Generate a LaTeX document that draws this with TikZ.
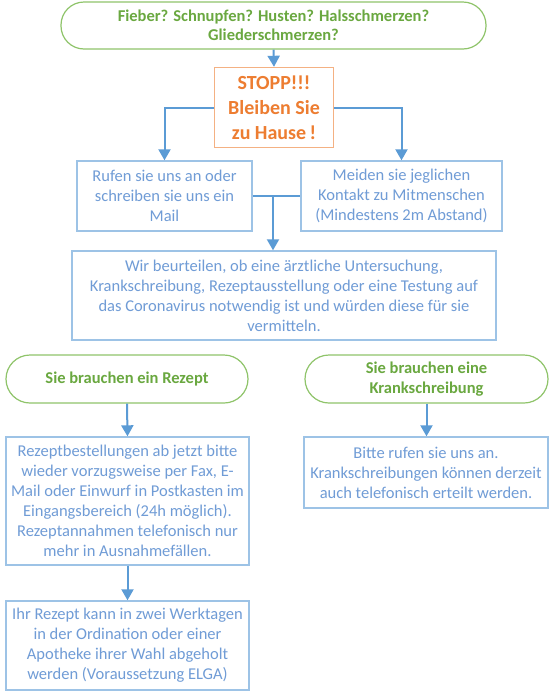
\documentclass[tikz,border=0pt]{standalone}
\usepackage{fontspec}
\setmainfont{Carlito}
\usetikzlibrary{arrows.meta}
\definecolor{bordblue}{RGB}{157,195,230}
\definecolor{txtblue}{RGB}{112,156,214}
\definecolor{arrblue}{RGB}{91,155,213}
\definecolor{grtxt}{RGB}{106,168,64}
\definecolor{grbord}{RGB}{143,196,106}
\definecolor{ortxt}{RGB}{237,125,49}
\definecolor{orbord}{RGB}{244,177,131}
\tikzset{
  infobox/.style={draw=bordblue, line width=1.4pt, rectangle, inner sep=0pt, align=center,
    text=txtblue, font=\fontsize{16.5}{20}\selectfont},
  termbox/.style={draw=grbord, line width=1.2pt, rectangle, inner sep=0pt, align=center,
    text=grtxt, font=\fontsize{16.5}{19.5}\selectfont\bfseries},
  stopbox/.style={draw=orbord, line width=1.4pt, rectangle, inner sep=0pt, align=center,
    text=ortxt, font=\fontsize{20}{25}\selectfont\bfseries},
  arr/.style={draw=arrblue, line width=2pt, -{Triangle[width=12pt,length=11pt]}},
  plainline/.style={draw=arrblue, line width=2pt}
}
\begin{document}
\begin{tikzpicture}[x=1pt,y=-1pt]
\useasboundingbox[fill=white] (0,0) rectangle (557,694);

\node[termbox, minimum width=425pt, minimum height=47pt, rounded corners=23pt] (top) at (273.5,25.5)
  {Fieber? Schnupfen? Husten? Halsschmerzen?\\Gliederschmerzen?};
\node[stopbox, minimum width=119pt, minimum height=80pt] (stop) at (274,107.5)
  {STOPP!!!\\Bleiben Sie\\zu Hause\,!};
\node[infobox, minimum width=175pt, minimum height=70pt] (left1) at (164.5,196)
  {Rufen sie uns an oder\\schreiben sie uns ein\\Mail};
\node[infobox, minimum width=201pt, minimum height=70pt] (right1) at (401.5,196)
  {Meiden sie jeglichen\\Kontakt zu Mitmenschen\\(Mindestens 2m Abstand)};
\node[infobox, minimum width=424pt, minimum height=89pt] (big) at (284,295.5)
  {Wir beurteilen, ob eine ärztliche Untersuchung,\\Krankschreibung, Rezeptausstellung oder eine Testung auf\\das Coronavirus notwendig ist und würden diese für sie\\vermitteln.};
\node[termbox, minimum width=242pt, minimum height=48pt, rounded corners=24pt] (rz) at (127,379)
  {Sie brauchen ein Rezept};
\node[termbox, minimum width=243pt, minimum height=48pt, rounded corners=24pt] (ks) at (426.5,379)
  {Sie brauchen eine\\Krankschreibung};
\node[infobox, minimum width=243pt, minimum height=128pt] (rzb) at (127.5,501)
  {Rezeptbestellungen ab jetzt bitte\\wieder vorzugsweise per Fax, E-\\Mail oder Einwurf in Postkasten im\\Eingangsbereich (24h möglich).\\Rezeptannahmen telefonisch nur\\mehr in Ausnahmefällen.};
\node[infobox, minimum width=244pt, minimum height=71pt] (ksb) at (426,472.5)
  {Bitte rufen sie uns an.\\Krankschreibungen können derzeit\\auch telefonisch erteilt werden.};
\node[infobox, minimum width=243pt, minimum height=89pt] (abh) at (127.5,645.5)
  {Ihr Rezept kann in zwei Werktagen\\in der Ordination oder einer\\Apotheke ihrer Wahl abgeholt\\werden (Voraussetzung ELGA)};

\coordinate (j) at (273,196);
\draw[arr] (top.south) -- (stop.north);
\draw[arr] (stop.west) -| (left1.north);
\draw[arr] (stop.east) -| (right1.north);
\draw[plainline] (left1.east) -- (right1.west);
\draw[arr] (j) -- (j |- big.north);
\draw[arr] (rz.south) -- (rzb.north);
\draw[arr] (ks.south) -- (ks.south |- ksb.north);
\draw[arr] (rzb.south) -- (abh.north);
\end{tikzpicture}
\end{document}
